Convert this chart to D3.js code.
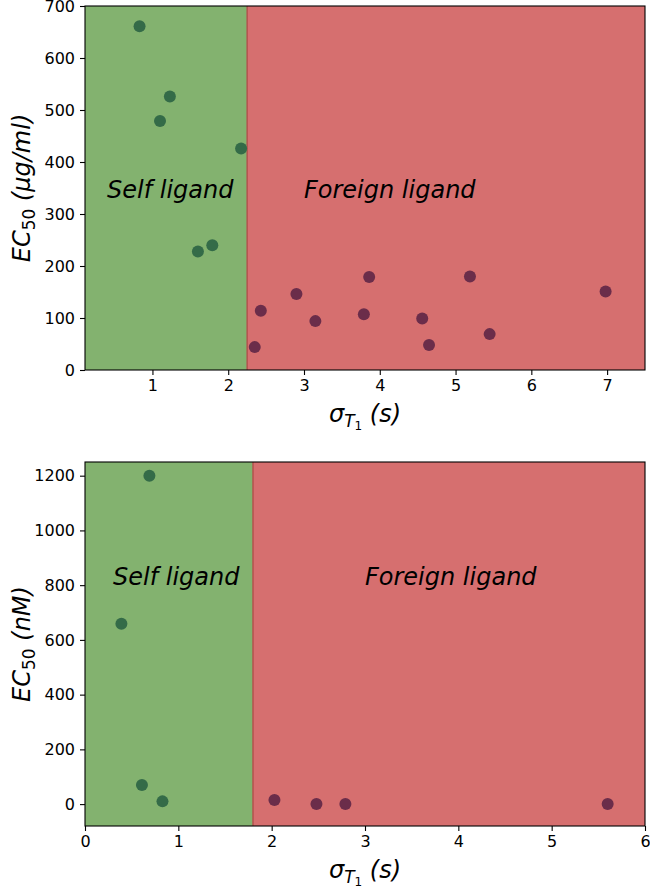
<!DOCTYPE html>
<html>
<head>
<meta charset="utf-8">
<script src="https://cdn.jsdelivr.net/npm/d3@7"></script>
<style>
  body { margin: 0; background: #fff; }
  svg { display: block; font-family: "DejaVu Sans", sans-serif; }
</style>
</head>
<body>
<svg id="chart" width="650" height="888"></svg>
<script>
// top panel: EC50 in ug/ml
const topSelf = [[0.83, 661], [1.10, 479], [1.23, 526], [1.60, 228], [1.79, 240], [2.17, 426]];
const topForeign = [[2.35, 44], [2.43, 114], [2.90, 146], [3.15, 94], [3.79, 107], [3.86, 179],
                    [4.56, 99], [4.65, 48], [5.19, 180], [5.45, 69], [6.98, 151]];
const topXTicks = [1, 2, 3, 4, 5, 6, 7];
const topYTicks = [0, 100, 200, 300, 400, 500, 600, 700];

// bottom panel: EC50 in nM
const botSelf = [[0.39, 659], [0.69, 1200], [0.61, 70], [0.83, 10]];
const botForeign = [[2.03, 15], [2.48, 0], [2.79, 0], [5.60, 0]];
const botXTicks = [0, 1, 2, 3, 4, 5, 6];
const botYTicks = [0, 200, 400, 600, 800, 1000, 1200];

const svg = d3.select("#chart");

const greenFill = "#83b26f";
const redFill = "#d66f6f";
const greenDot = "#346b48";
const redDot = "#6b2d4a";

function panel(opt) {
    const x = d3.scaleLinear().domain(opt.xDomain).range([85, 645]);
    const y = d3.scaleLinear().domain(opt.yDomain).range([opt.bottom, opt.top]);
    const g = svg.append("g");

    // shaded regions
    g.append("rect")
        .attr("x", x(opt.xDomain[0])).attr("y", opt.top)
        .attr("width", x(opt.split) - x(opt.xDomain[0]))
        .attr("height", opt.bottom - opt.top)
        .attr("fill", greenFill);
    g.append("rect")
        .attr("x", x(opt.split)).attr("y", opt.top)
        .attr("width", x(opt.xDomain[1]) - x(opt.split))
        .attr("height", opt.bottom - opt.top)
        .attr("fill", redFill);
    g.append("line")
        .attr("x1", x(opt.split)).attr("x2", x(opt.split))
        .attr("y1", opt.top).attr("y2", opt.bottom)
        .attr("stroke", "#b3524d").attr("stroke-width", 1.5);

    // labels inside
    g.append("text")
        .attr("x", x(opt.selfPos[0])).attr("y", y(opt.selfPos[1]))
        .attr("font-size", 24).attr("font-style", "italic")
        .text("Self ligand");
    g.append("text")
        .attr("x", x(opt.foreignPos[0])).attr("y", y(opt.foreignPos[1]))
        .attr("font-size", 24).attr("font-style", "italic")
        .text("Foreign ligand");

    // points
    g.selectAll(".self").data(opt.self).join("circle")
        .attr("cx", d => x(d[0])).attr("cy", d => y(d[1]))
        .attr("r", 6).attr("fill", greenDot);
    g.selectAll(".foreign").data(opt.foreign).join("circle")
        .attr("cx", d => x(d[0])).attr("cy", d => y(d[1]))
        .attr("r", 6).attr("fill", redDot);

    // frame
    g.append("rect")
        .attr("x", 85).attr("y", opt.top)
        .attr("width", 560).attr("height", opt.bottom - opt.top)
        .attr("fill", "none").attr("stroke", "#000").attr("stroke-width", 1.1);

    // axes
    const xa = g.append("g")
        .attr("transform", `translate(0,${opt.bottom})`)
        .call(d3.axisBottom(x).tickValues(opt.xTicks).tickSize(5).tickPadding(5).tickFormat(d3.format("d")));
    const ya = g.append("g")
        .attr("transform", "translate(85,0)")
        .call(d3.axisLeft(y).tickValues(opt.yTicks).tickSize(5).tickPadding(5).tickFormat(d3.format("d")));
    [xa, ya].forEach(a => {
        a.select(".domain").remove();
        a.selectAll("line").attr("stroke", "#000").attr("stroke-width", 1.1);
        a.selectAll("text").attr("font-size", 16).attr("fill", "#000")
            .attr("font-family", "DejaVu Sans, sans-serif");
    });

    // x label: sigma_{T_1} (s)
    const xl = g.append("text")
        .attr("x", 365).attr("y", opt.bottom + 52)
        .attr("text-anchor", "middle")
        .attr("font-size", 24).attr("font-style", "italic");
    xl.append("tspan").text("σ");
    xl.append("tspan").attr("font-size", 17).attr("dy", 5).text("T");
    xl.append("tspan").attr("font-size", 12).attr("font-style", "normal").attr("dy", 3).text("1");
    xl.append("tspan").attr("dy", -8).text("\u00a0(s)");

    // y label: EC_50 (unit)
    const cy = (opt.top + opt.bottom) / 2;
    const yl = g.append("text")
        .attr("transform", `translate(30,${cy}) rotate(-90)`)
        .attr("text-anchor", "middle")
        .attr("font-size", 24).attr("font-style", "italic");
    yl.append("tspan").text("EC");
    yl.append("tspan").attr("font-size", 17).attr("font-style", "normal").attr("dy", 5).text("50");
    yl.append("tspan").attr("dy", -5).text("\u00a0" + opt.unit);
}

panel({
    top: 6, bottom: 370,
    xDomain: [0.11, 7.5], yDomain: [0, 700],
    split: 2.25,
    xTicks: topXTicks, yTicks: topYTicks,
    self: topSelf, foreign: topForeign,
    selfPos: [0.4, 330], foreignPos: [3.0, 330],
    unit: "(μg/ml)"
});

panel({
    top: 462, bottom: 826,
    xDomain: [0, 6], yDomain: [-80, 1250],
    split: 1.8,
    xTicks: botXTicks, yTicks: botYTicks,
    self: botSelf, foreign: botForeign,
    selfPos: [0.3, 800], foreignPos: [3.0, 800],
    unit: "(nM)"
});
</script>
</body>
</html>
